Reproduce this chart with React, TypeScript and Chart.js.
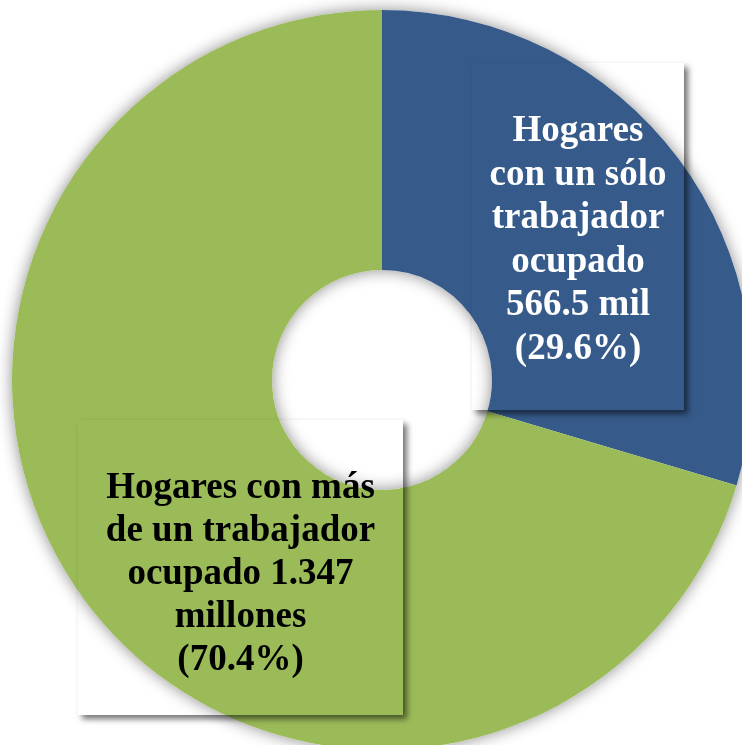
import React, { useEffect, useRef } from "react";
import { Chart, registerables } from "chart.js";

Chart.register(...registerables);

const categories = [
  "Hogares con un sólo trabajador ocupado",
  "Hogares con más de un trabajador ocupado",
];
const values = [566.5, 1347];
const colors = ["#365B8A", "#9BBB59"];
const labelLines = [
  ["Hogares", "con un sólo", "trabajador", "ocupado", "566.5 mil", "(29.6%)"],
  ["Hogares con más", "de un trabajador", "ocupado 1.347", "millones", "(70.4%)"],
];
const labelColors = ["#FFFFFF", "#000000"];
// label boxes: x, y, w, h, first baseline, line step
const labelBoxes = [
  { x: 472, y: 63, w: 212, h: 347, base: 141, step: 43.5 },
  { x: 78, y: 420, w: 325, h: 295, base: 498, step: 43 },
];

const ringShadow = {
  id: "ringShadow",
  beforeDatasetsDraw(chart: any) {
    const meta = chart.getDatasetMeta(0);
    const arc = meta.data[0];
    if (!arc) return;
    const { x, y, outerRadius, innerRadius } = arc.getProps(["x", "y", "outerRadius", "innerRadius"], true);
    const ctx = chart.ctx;
    ctx.save();
    ctx.shadowColor = "rgba(0,0,0,0.45)";
    ctx.shadowBlur = 16;
    ctx.fillStyle = "#ffffff";
    ctx.beginPath();
    ctx.arc(x, y, outerRadius, 0, Math.PI * 2);
    ctx.arc(x, y, innerRadius, 0, Math.PI * 2, true);
    ctx.fill("evenodd");
    ctx.restore();
  },
};

const labelBoxesPlugin = {
  id: "labelBoxes",
  afterDatasetsDraw(chart: any) {
    const ctx = chart.ctx;
    const W = chart.width;
    const H = chart.height;
    labelBoxes.forEach((b, i) => {
      // drop shadow outside box only
      ctx.save();
      ctx.beginPath();
      ctx.rect(0, 0, W, H);
      ctx.rect(b.x, b.y, b.w, b.h);
      ctx.clip("evenodd");
      ctx.shadowColor = "rgba(0,0,0,0.55)";
      ctx.shadowBlur = 6;
      ctx.shadowOffsetX = 4;
      ctx.shadowOffsetY = 4;
      ctx.fillStyle = "rgba(0,0,0,1)";
      ctx.fillRect(b.x, b.y, b.w, b.h);
      ctx.restore();

      ctx.save();
      ctx.font = "bold 37px 'Liberation Serif', 'Times New Roman', serif";
      ctx.fillStyle = labelColors[i];
      ctx.textAlign = "center";
      ctx.textBaseline = "alphabetic";
      const cx = b.x + b.w / 2;
      labelLines[i].forEach((line, j) => {
        ctx.fillText(line, cx, b.base + j * b.step);
      });
      ctx.restore();
    });
  },
};

export default function App() {
  const ref = useRef<HTMLCanvasElement | null>(null);
  useEffect(() => {
    if (!ref.current) return;
    const chart = new Chart(ref.current, {
      type: "doughnut",
      data: {
        labels: categories,
        datasets: [
          {
            data: values,
            backgroundColor: colors,
            borderWidth: 0,
            hoverOffset: 0,
          },
        ],
      },
      options: {
        responsive: false,
        animation: false,
        devicePixelRatio: 1,
        cutout: "29.7%",
        layout: { padding: { left: 12, top: 10, right: 0, bottom: 0 } },
        plugins: {
          legend: { display: false },
          tooltip: { enabled: false },
        },
        events: [],
      },
      plugins: [ringShadow, labelBoxesPlugin],
    });
    return () => chart.destroy();
  }, []);
  return (
    <div
      style={{
        position: "fixed",
        left: 0,
        top: 0,
        width: "100vw",
        height: "100vh",
        overflow: "hidden",
        background: "#ffffff",
      }}
    >
      <canvas
        ref={ref}
        width={752}
        height={750}
        style={{ position: "absolute", left: 0, top: 0, width: 752, height: 750, display: "block" }}
      />
    </div>
  );
}
